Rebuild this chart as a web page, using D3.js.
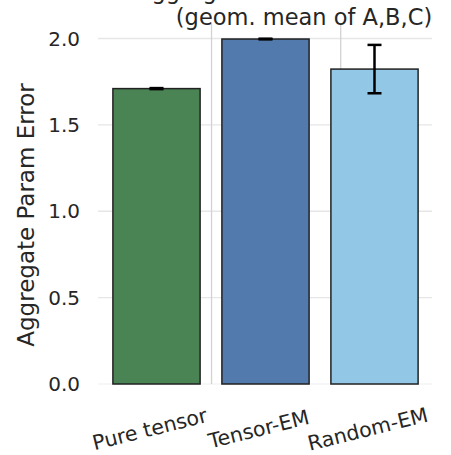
<!DOCTYPE html>
<html>
<head>
<meta charset="utf-8">
<script src="https://cdn.jsdelivr.net/npm/d3@7"></script>
<style>
  body { margin: 0; background: #fff; }
  svg { display: block; font-family: "DejaVu Sans", sans-serif; }
</style>
</head>
<body>
<svg></svg>
<script>
// chart values
let methods = ['Pure tensor', 'Tensor-EM', 'Random-EM']
let means = [1.71, 1.997, 1.823]
let errs = [0.003, 0.002, 0.14]
let yTicks = [0.0, 0.5, 1.0, 1.5, 2.0]
// odd vertical grid lines, in bar-index units
let vGrid = [0.505, 1.69]

let colors = ['#4a8454', '#527aac', '#92c8e6']

let svgWidth = 451,
    svgHeight = 455

let svg = d3.select('svg')
    .attr('width', svgWidth)
    .attr('height', svgHeight)

// SCALES
let x = d3.scaleBand()
    .domain(methods)
    .range([102, 429])
    .paddingInner(0.2)
    .paddingOuter(0.1)

let xi = d3.scaleLinear()
    .domain([0, 1])
    .range([x(methods[0]) + x.bandwidth() / 2, x(methods[1]) + x.bandwidth() / 2])

let y = d3.scaleLinear()
    .domain([0, 2.084])
    .range([384, 24])

// GRID
svg.append('g')
    .selectAll('line')
    .data(yTicks)
    .enter()
    .append('line')
    .attr('x1', x.range()[0] - 4)
    .attr('x2', x.range()[1] + 3)
    .attr('y1', d => y(d))
    .attr('y2', d => y(d))
    .attr('stroke', d => d === 0 ? '#f4f4f4' : '#e6e6e6')
    .attr('stroke-width', 1.3)

svg.append('g')
    .selectAll('line')
    .data(vGrid)
    .enter()
    .append('line')
    .attr('x1', d => xi(d))
    .attr('x2', d => xi(d))
    .attr('y1', y.range()[1])
    .attr('y2', y.range()[0])
    .attr('stroke', '#d2d2d2')
    .attr('stroke-width', 1.3)

// BARS
let rows = methods.map((m, i) => ({name: m, mean: means[i], err: errs[i], color: colors[i]}))

svg.append('g')
    .selectAll('rect')
    .data(rows)
    .enter()
    .append('rect')
    .attr('x', d => x(d.name))
    .attr('width', x.bandwidth())
    .attr('y', d => y(d.mean))
    .attr('height', d => y(0) - y(d.mean))
    .attr('fill', d => d.color)
    .attr('stroke', '#222')
    .attr('stroke-width', 1.5)

// ERROR BARS
let eb = svg.append('g')
    .selectAll('g')
    .data(rows)
    .enter()
    .append('g')
    .attr('stroke', '#000')
    .attr('stroke-width', 2.5)

eb.append('line')
    .attr('x1', d => x(d.name) + x.bandwidth() / 2)
    .attr('x2', d => x(d.name) + x.bandwidth() / 2)
    .attr('y1', d => y(d.mean - d.err))
    .attr('y2', d => y(d.mean + d.err))

eb.selectAll('.cap')
    .data(d => [d.mean - d.err, d.mean + d.err].map(v => ({v, cx: x(d.name) + x.bandwidth() / 2})))
    .enter()
    .append('line')
    .attr('x1', d => d.cx - 7)
    .attr('x2', d => d.cx + 7)
    .attr('y1', d => y(d.v))
    .attr('y2', d => y(d.v))

// Y AXIS LABELS
svg.append('g')
    .selectAll('text')
    .data(yTicks)
    .enter()
    .append('text')
    .attr('x', 80)
    .attr('y', d => y(d))
    .attr('dy', '0.36em')
    .attr('text-anchor', 'end')
    .attr('font-size', 20)
    .attr('fill', '#262626')
    .text(d => d.toFixed(1))

svg.append('text')
    .attr('transform', 'translate(34, 215) rotate(-90)')
    .attr('text-anchor', 'middle')
    .attr('font-size', 23)
    .attr('fill', '#262626')
    .text('Aggregate Param Error')

// X AXIS LABELS
svg.append('g')
    .selectAll('text')
    .data(methods)
    .enter()
    .append('text')
    .attr('transform', d => `translate(${x(d) + x.bandwidth() / 2 - 5}, 436) rotate(-14)`)
    .attr('text-anchor', 'middle')
    .attr('font-size', 20.5)
    .attr('fill', '#262626')
    .text(d => d)

// TITLE (first line cropped off at the top, as in the source image)
svg.append('text')
    .attr('x', 136)
    .attr('y', -1)
    .attr('font-size', 22.5)
    .attr('fill', '#262626')
    .text('Aggregate Param Error')

svg.append('text')
    .attr('x', 304)
    .attr('y', 25)
    .attr('text-anchor', 'middle')
    .attr('font-size', 22.5)
    .attr('fill', '#262626')
    .text('(geom. mean of A,B,C)')
</script>
</body>
</html>
